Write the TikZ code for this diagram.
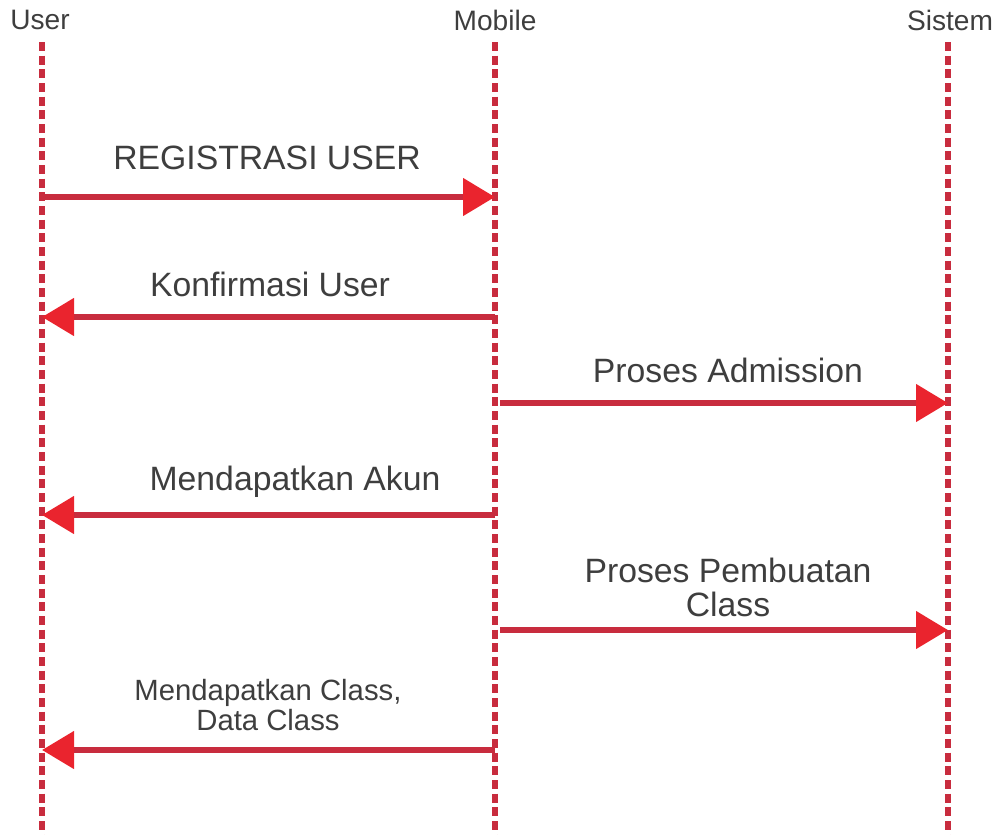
\documentclass[tikz,border=0pt]{standalone}
\usepackage{fontspec}
\setmainfont{Liberation Sans}
\usetikzlibrary{arrows.meta}

\definecolor{lifered}{RGB}{200,44,62}
\definecolor{headred}{RGB}{234,36,46}
\definecolor{txtgray}{RGB}{62,62,62}

\tikzset{
  lifeline/.style={draw=lifered, line width=0.19cm, dash pattern=on 0.27cm off 0.14cm},
  message/.style={draw=lifered, line width=0.17cm,
    -{Triangle[length=0.96cm, width=1.1cm, color=headred]}},
  actor/.style={text=txtgray, font=\fontsize{24}{28}\selectfont, inner sep=0pt},
  msglabel/.style={text=txtgray, font=\fontsize{28.8}{29}\selectfont, align=center, inner sep=0pt},
  smalllabel/.style={text=txtgray, font=\fontsize{25}{25.6}\selectfont, align=center, inner sep=0pt},
}

\begin{document}
\begin{tikzpicture}[x=0.03cm, y=-0.03cm]
                \useasboundingbox (0,0) rectangle (999,835);

                % Actors
                \node [actor] (user) at (40,20) {User};
                \node [actor] (mobile) at (495,20) {Mobile};
                \node [actor] (sistem) at (950,20) {Sistem};

                % Lifelines
                \coordinate (userTop) at (42,42);
                \coordinate (userEnd) at (42,835);
                \coordinate (mobileTop) at (495,42);
                \coordinate (mobileEnd) at (495,835);
                \coordinate (sistemTop) at (948,42);
                \coordinate (sistemEnd) at (948,835);
                \draw [lifeline] (userTop) -- (userEnd);
                \draw [lifeline] (mobileTop) -- (mobileEnd);
                \draw [lifeline] (sistemTop) -- (sistemEnd);

                % Message 1: User -> Mobile
                \coordinate (u1) at (42,197);
                \coordinate (m1) at (495,197);
                \draw [message] (u1) -- (m1);
                \node [msglabel] (regLabel) at (267,158) {REGISTRASI USER};

                % Message 2: Mobile -> User
                \coordinate (m2) at (495,317);
                \coordinate (u2) at (42,317);
                \draw [message] (m2) -- (u2);
                \node [msglabel] (konfLabel) at (270,284) {Konfirmasi User};

                % Message 3: Mobile -> Sistem
                \coordinate (m3) at (500,403);
                \coordinate (s3) at (948,403);
                \draw [message] (m3) -- (s3);
                \node [msglabel] (admLabel) at (728,370) {Proses Admission};

                % Message 4: Mobile -> User
                \coordinate (m4) at (495,515);
                \coordinate (u4) at (42,515);
                \draw [message] (m4) -- (u4);
                \node [msglabel] (akunLabel) at (295,482) {Mendapatkan Akun};

                % Message 5: Mobile -> Sistem
                \coordinate (m5) at (500,630);
                \coordinate (s5) at (948,630);
                \draw [message] (m5) -- (s5);
                \node [msglabel] (classLabel) at (728,587) {Proses Pembuatan\\Class};

                % Message 6: Mobile -> User
                \coordinate (m6) at (495,750);
                \coordinate (u6) at (42,750);
                \draw [message] (m6) -- (u6);
                \node [smalllabel] (dataLabel) at (268,705) {Mendapatkan Class,\\Data Class};
\end{tikzpicture}
\end{document}
